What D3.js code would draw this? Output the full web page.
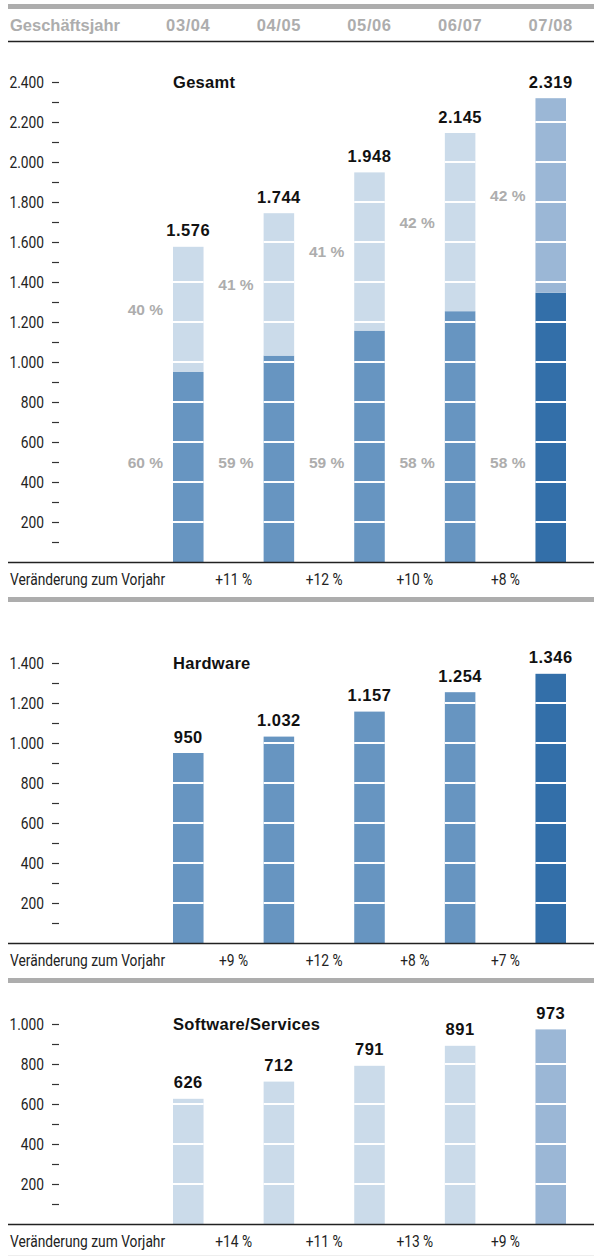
<!DOCTYPE html>
<html>
<head>
	<meta charset="utf-8">
	<title>Umsatz Geschäftsjahr</title>
	<script src="https://cdn.jsdelivr.net/npm/d3@7"></script>
	<style type="text/css">
		html, body {
			margin: 0;
			padding: 0;
			background: white;
		}
		svg text {
			font-family: Roboto, 'Liberation Sans', sans-serif;
		}
		svg text.bold {
			font-family: 'Liberation Sans', Arial, sans-serif;
			font-weight: bold;
		}
	</style>
</head>
<body>
<div id="vis"></div>

<script type="text/javascript">

// data
var years = ["03/04", "04/05", "05/06", "06/07", "07/08"];
var hardware = [950, 1032, 1157, 1254, 1346];
var software = [626, 712, 791, 891, 973];
var total = [1576, 1744, 1948, 2145, 2319];
var hardwareShare = [60, 59, 59, 58, 58];
var softwareShare = [40, 41, 41, 42, 42];
var changeTotal = [11, 12, 10, 8];
var changeHardware = [9, 12, 8, 7];
var changeSoftware = [14, 11, 13, 9];

var width = 594;
var height = 1257;

var grey = "#adadad";
var colors = {
	hw: "#6795c1", hwLast: "#336fa9",
	sw: "#cbdbea", swLast: "#9bb7d6"
};

// narrow look of the original font
var squeeze = 0.81;

var de = d3.formatLocale({decimal: ",", thousands: ".", grouping: [3], currency: ["", " €"]});
var fmt = de.format(",d");

var svg = d3.select("#vis").append("svg")
	.attr("width", width)
	.attr("height", height);

var x = d3.scaleBand()
	.domain(years)
	.range([173, 566])
	.paddingInner(0.663)
	.paddingOuter(0);

function narrow(sel, px, py) {
	return sel.attr("transform", "translate(" + px + "," + py + ") scale(" + squeeze + ",1)");
}

// header
svg.append("rect").attr("x", 8).attr("y", 4).attr("width", width - 8).attr("height", 5).attr("fill", grey);
svg.append("text").attr("class", "bold")
	.attr("x", 10).attr("y", 31)
	.attr("fill", grey).style("font-size", "16.5px")
	.text("Geschäftsjahr");
svg.selectAll(".yearLabel").data(years).enter().append("text")
	.attr("class", "bold yearLabel")
	.attr("x", function(d) { return x(d) + x.bandwidth() / 2; })
	.attr("y", 31)
	.attr("text-anchor", "middle")
	.attr("fill", grey).style("font-size", "16.5px").style("letter-spacing", "0.6px")
	.text(function(d) { return d; });
svg.append("line").attr("x1", 8).attr("x2", width).attr("y1", 41.5).attr("y2", 41.5)
	.attr("stroke", "#222").attr("stroke-width", 1.3);

function panel(opts) {
	var g = svg.append("g");
	var y = d3.scaleLinear().domain([0, opts.max]).range([opts.base, opts.base - opts.max * 0.2]);

	// ticks
	var ticks = d3.range(100, opts.max + 1, 100);
	g.selectAll(".tick").data(ticks).enter().append("line")
		.attr("x1", 52).attr("x2", 59)
		.attr("y1", function(d) { return Math.round(y(d)) + 0.5; })
		.attr("y2", function(d) { return Math.round(y(d)) + 0.5; })
		.attr("stroke", "#333").attr("stroke-width", 1.2);
	g.selectAll(".tickLabel").data(ticks.filter(function(d) { return d % 200 === 0; })).enter().append("text")
		.each(function(d) { narrow(d3.select(this), 44, y(d)); })
		.attr("dy", "0.36em")
		.attr("text-anchor", "end")
		.attr("fill", "#222").style("font-size", "17px")
		.text(function(d) { return fmt(d); });

	// title
	g.append("text").attr("class", "bold")
		.attr("x", 173).attr("y", y(opts.max)).attr("dy", "0.34em")
		.style("font-size", "16.5px").style("letter-spacing", "0.3px").attr("fill", "#111")
		.text(opts.title);

	// stacked segments
	opts.series.forEach(function(s, si) {
		g.selectAll(".seg" + si).data(years).enter().append("rect")
			.attr("x", function(d) { return x(d); })
			.attr("width", x.bandwidth())
			.attr("y", function(d, i) { return y(s.base[i] + s.values[i]); })
			.attr("height", function(d, i) { return y(s.base[i]) - y(s.base[i] + s.values[i]); })
			.attr("fill", function(d, i) { return i === years.length - 1 ? s.last : s.color; });
	});

	// white lines every 200
	years.forEach(function(yr, i) {
		var top = opts.totals[i];
		g.selectAll(".wl" + i).data(d3.range(200, top, 200)).enter().append("line")
			.attr("x1", x(yr)).attr("x2", x(yr) + x.bandwidth())
			.attr("y1", function(d) { return y(d); })
			.attr("y2", function(d) { return y(d); })
			.attr("stroke", "white").attr("stroke-width", 2);
	});

	// value labels
	g.selectAll(".val").data(years).enter().append("text")
		.attr("class", "bold")
		.attr("x", function(d) { return x(d) + x.bandwidth() / 2; })
		.attr("y", function(d, i) { return y(opts.totals[i]) - 10.5; })
		.attr("text-anchor", "middle")
		.style("font-size", "16.5px").style("letter-spacing", "0.5px").attr("fill", "#111")
		.text(function(d, i) { return fmt(opts.totals[i]); });

	// share labels
	if (opts.shares) {
		opts.shares.forEach(function(sh) {
			g.selectAll(".share").data(years).enter().append("text")
				.attr("class", "bold")
				.attr("x", function(d) { return x(d) - 10; })
				.attr("y", function(d, i) { return y(sh.pos(i)); })
				.attr("dy", "0.36em")
				.attr("text-anchor", "end")
				.style("font-size", "15.5px").attr("fill", grey)
				.text(function(d, i) { return sh.values[i] + " %"; });
		});
	}

	// baseline
	g.append("line").attr("x1", 8).attr("x2", width)
		.attr("y1", opts.base + 0.5).attr("y2", opts.base + 0.5)
		.attr("stroke", "#222").attr("stroke-width", 1.3);

	// change row
	narrow(g.append("text"), 10, opts.base + 17)
		.attr("dy", "0.36em")
		.style("font-size", "17px").attr("fill", "#222")
		.text("Veränderung zum Vorjahr");
	g.selectAll(".chg").data(opts.changes).enter().append("text")
		.each(function(d, i) {
			var cx = (x(years[i]) + x(years[i + 1])) / 2 + x.bandwidth() / 2;
			narrow(d3.select(this), cx, opts.base + 17);
		})
		.attr("dy", "0.36em")
		.attr("text-anchor", "middle")
		.style("font-size", "17px").attr("fill", "#222")
		.text(function(d) { return "+" + d + " %"; });

	if (opts.rule) {
		g.append("rect").attr("x", 8).attr("y", opts.base + 35).attr("width", width - 8).attr("height", 5).attr("fill", grey);
	}
}

var zeros = years.map(function() { return 0; });

panel({
	title: "Gesamt", base: 562, max: 2400,
	totals: total,
	series: [
		{values: hardware, base: zeros, color: colors.hw, last: colors.hwLast},
		{values: software, base: hardware, color: colors.sw, last: colors.swLast}
	],
	shares: [
		{values: hardwareShare, pos: function() { return 500; }},
		{values: softwareShare, pos: function(i) { return hardware[i] + software[i] / 2; }}
	],
	changes: changeTotal, rule: true
});

panel({
	title: "Hardware", base: 943, max: 1400,
	totals: hardware,
	series: [{values: hardware, base: zeros, color: colors.hw, last: colors.hwLast}],
	changes: changeHardware, rule: true
});

panel({
	title: "Software/Services", base: 1224, max: 1000,
	totals: software,
	series: [{values: software, base: zeros, color: colors.sw, last: colors.swLast}],
	changes: changeSoftware, rule: false
});

svg.append("line").attr("x1", 8).attr("x2", width).attr("y1", 1255.5).attr("y2", 1255.5)
	.attr("stroke", "#eeeeee").attr("stroke-width", 1);

</script>
</body>
</html>
